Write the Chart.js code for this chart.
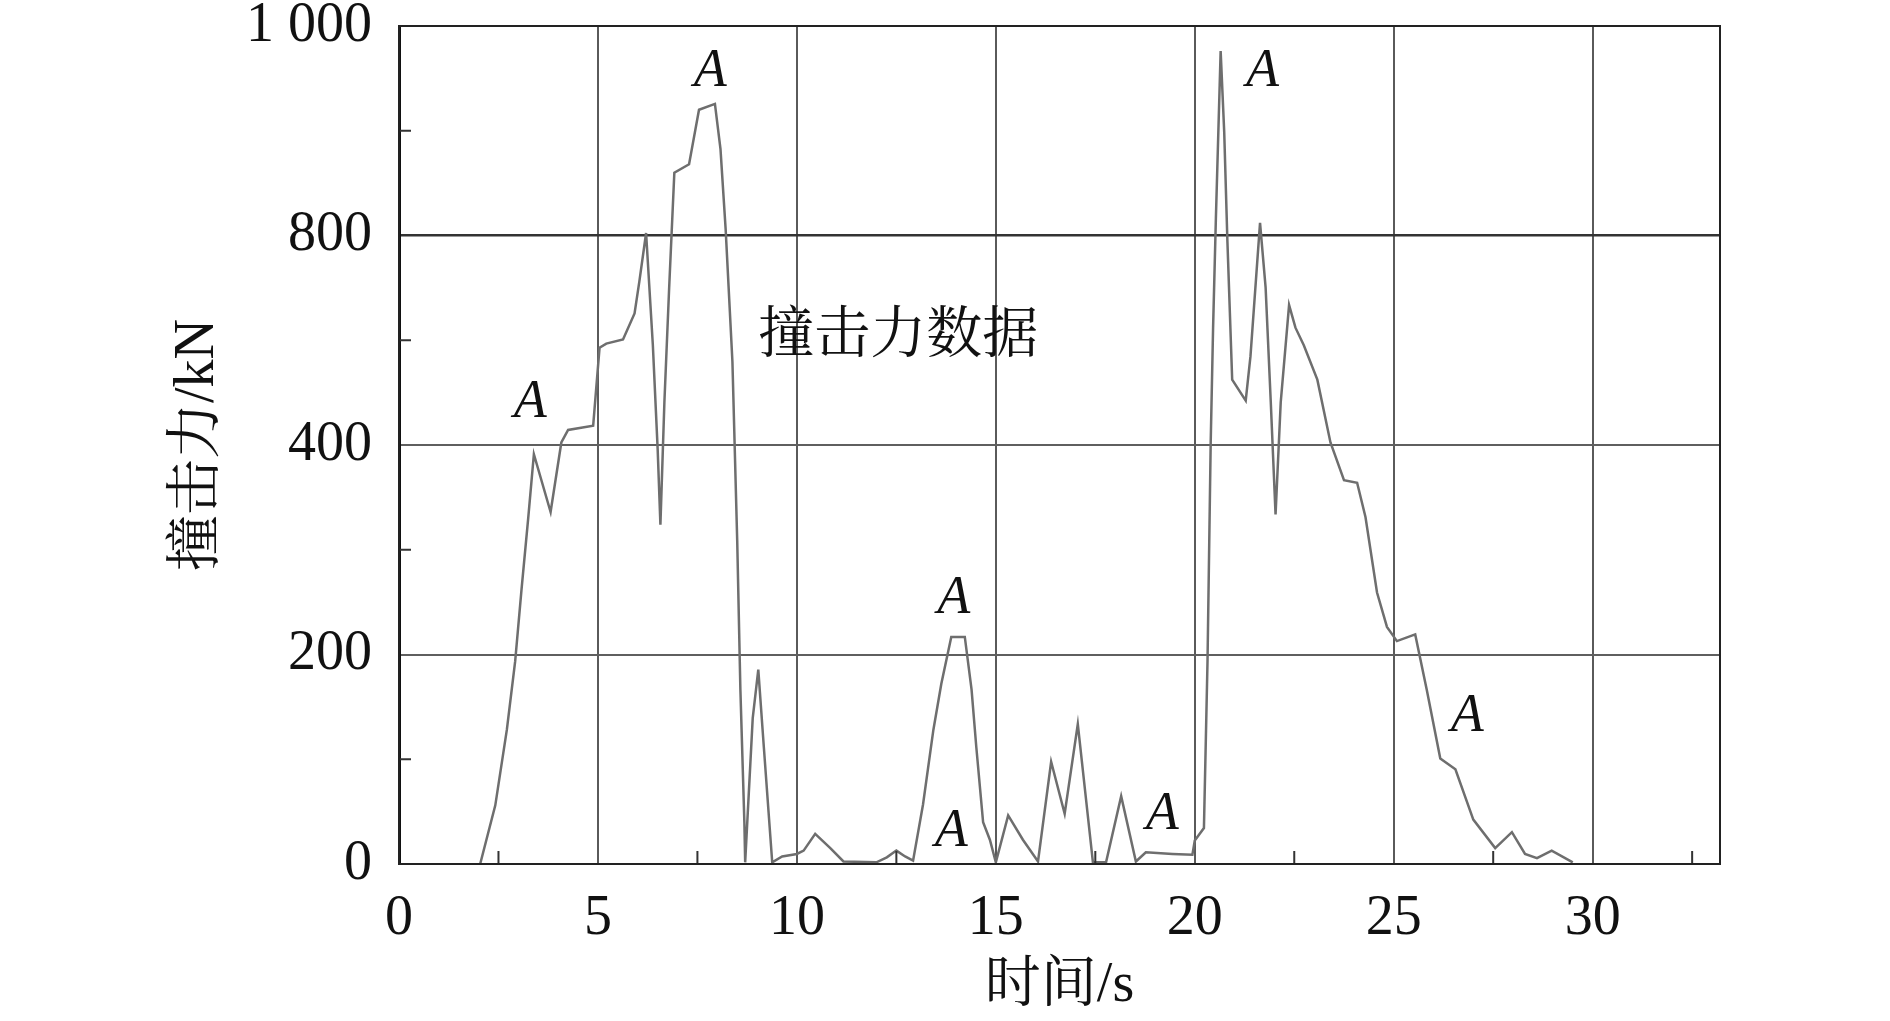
<!DOCTYPE html>
<html>
<head>
<meta charset="utf-8">
<script src="https://cdn.jsdelivr.net/npm/chart.js"></script>
<style>
  html, body { margin: 0; padding: 0; background: #fff; }
  #wrap { width: 1890px; height: 1021px; }
</style>
</head>
<body>
<div id="wrap"><canvas id="forceChart"></canvas></div>
<script>
// valeurs
const timeS = [2.04, 2.42, 2.71, 2.92, 3.08, 3.25, 3.39, 3.81, 4.08, 4.25, 4.88, 5.04, 5.21, 5.63, 5.92, 6.04, 6.21, 6.38, 6.5, 6.57,
  6.67, 6.79, 6.92, 7.29, 7.54, 7.94, 8.08, 8.21, 8.38, 8.5, 8.58, 8.68, 8.7, 8.89, 9.03, 9.17, 9.38, 9.63, 10.0, 10.17,
  10.46, 10.84, 11.17, 12.0, 12.26, 12.5, 12.72, 12.92, 13.17, 13.43, 13.63, 13.88, 14.22, 14.39, 14.51, 14.68, 14.85, 15.0, 15.31, 15.68,
  16.06, 16.39, 16.73, 17.06, 17.44, 17.77, 18.15, 18.52, 18.77, 19.44, 19.94, 20.0, 20.23, 20.32, 20.4, 20.46, 20.53, 20.65, 20.74, 20.82,
  20.94, 21.28, 21.4, 21.64, 21.78, 21.91, 22.03, 22.16, 22.37, 22.53, 22.74, 23.08, 23.41, 23.75, 24.08, 24.29, 24.58, 24.83, 25.08, 25.54,
  25.83, 26.17, 26.55, 27.0, 27.55, 27.97, 28.3, 28.6, 28.97, 29.5];
const forceKN = [0, 70, 160, 242, 328, 414, 489, 420, 503, 518, 523, 616, 621, 626, 657, 695, 753, 619, 496, 405,
  551, 688, 825, 835, 900, 907, 853, 757, 599, 386, 208, 50, 2, 174, 232, 139, 2, 9, 12, 16,
  36, 19, 3, 2, 8, 16, 9, 4, 71, 160, 215, 271, 271, 208, 139, 50, 29, 2, 58, 29,
  3, 122, 60, 167, 2, 2, 81, 3, 14, 12, 11, 28, 43, 242, 503, 640, 770, 970, 873, 743,
  578, 553, 606, 765, 688, 551, 417, 551, 667, 640, 619, 578, 503, 458, 455, 414, 324, 283, 266, 274,
  208, 126, 113, 53, 19, 38, 12, 7, 16, 2];

// libellés des graduations tels qu'imprimés sur la figure
const yTickLabels = ['0', '200', '400', '800', '1 000'];
const xMinorTicks = [2.5, 7.5, 12.5, 17.5, 22.5, 27.5, 32.5];
const yMinorTicks = [125, 375, 625, 875];

// repères "A"
const markX = [3.3, 7.82, 13.94, 13.88, 19.18, 21.7, 26.85];
const markY = [550, 945, 317, 39, 59, 945, 176];
const noteText = '撞击力数据';
const noteX = 12.55;
const noteY = 629;

const serif = "'Liberation Serif', 'Noto Serif CJK SC', 'Noto Sans CJK SC', serif";

const overlay = {
    id: 'overlay',
    afterDatasetsDraw(chart) {
        const ctx = chart.ctx;
        const area = chart.chartArea;
        const xs = chart.scales.x;
        const ys = chart.scales.y;
        ctx.save();
        // petites graduations vers l'intérieur
        ctx.strokeStyle = '#333';
        ctx.lineWidth = 2;
        ctx.beginPath();
        xMinorTicks.forEach(v => {
            const px = xs.getPixelForValue(v);
            ctx.moveTo(px, area.bottom);
            ctx.lineTo(px, area.bottom - 13);
        });
        yMinorTicks.forEach(v => {
            const py = ys.getPixelForValue(v);
            ctx.moveTo(area.left, py);
            ctx.lineTo(area.left + 12, py);
        });
        ctx.stroke();
        // cadre
        ctx.strokeStyle = '#222';
        ctx.lineWidth = 2;
        ctx.strokeRect(area.left, area.top, area.right - area.left, area.bottom - area.top);
        // textes
        ctx.fillStyle = '#111';
        ctx.textAlign = 'center';
        ctx.textBaseline = 'middle';
        ctx.font = "italic 54px 'Liberation Serif', serif";
        markX.forEach((x, i) => {
            ctx.fillText('A', xs.getPixelForValue(x), ys.getPixelForValue(markY[i]));
        });
        ctx.font = '56px ' + serif;
        ctx.fillText(noteText, xs.getPixelForValue(noteX), ys.getPixelForValue(noteY));
        ctx.restore();
    }
};

const points = timeS.map((t, i) => ({ x: t, y: forceKN[i] }));

new Chart(document.getElementById('forceChart').getContext('2d'), {
    type: 'line',
    data: {
        datasets: [{
            data: points,
            borderColor: '#6e6e6e',
            borderWidth: 2.5,
            pointRadius: 0,
            tension: 0,
            fill: false
        }]
    },
    options: {
        responsive: true,
        maintainAspectRatio: false,
        animation: false,
        events: [],
        layout: { padding: { left: 0, top: 26, right: 170, bottom: 0 } },
        plugins: {
            legend: { display: false },
            tooltip: { enabled: false }
        },
        scales: {
            x: {
                type: 'linear',
                min: 0,
                max: 33.2,
                afterFit: s => { s.height = 157; s.paddingLeft = 0; s.paddingRight = 0; },
                ticks: {
                    stepSize: 5,
                    includeBounds: false,
                    padding: 22,
                    color: '#111',
                    maxRotation: 0,
                    font: { family: serif, size: 56 }
                },
                grid: { color: '#5a5a5a', lineWidth: 2, drawTicks: false },
                border: { color: '#111', width: 2 },
                title: {
                    display: true,
                    text: '时间/s',
                    color: '#111',
                    font: { family: serif, size: 56 },
                    padding: { top: 0, bottom: 1 }
                }
            },
            y: {
                min: 0,
                max: 1000,
                afterFit: s => { s.width = 399; s.paddingTop = 0; s.paddingBottom = 0; },
                ticks: {
                    stepSize: 250,
                    padding: 27,
                    color: '#111',
                    font: { family: serif, size: 56 },
                    callback: (value, index) => yTickLabels[index]
                },
                grid: {
                    color: c => (c.tick && c.tick.value === 750 ? '#333' : '#5f5f5f'),
                    lineWidth: c => (c.tick && c.tick.value === 750 ? 2.5 : 2),
                    drawTicks: false
                },
                border: { color: '#111', width: 3 },
                title: {
                    display: true,
                    text: '撞击力/kN',
                    color: '#111',
                    font: { family: serif, size: 56 },
                    padding: { top: 165, bottom: 0 }
                }
            }
        }
    },
    plugins: [overlay]
});
</script>
</body>
</html>
